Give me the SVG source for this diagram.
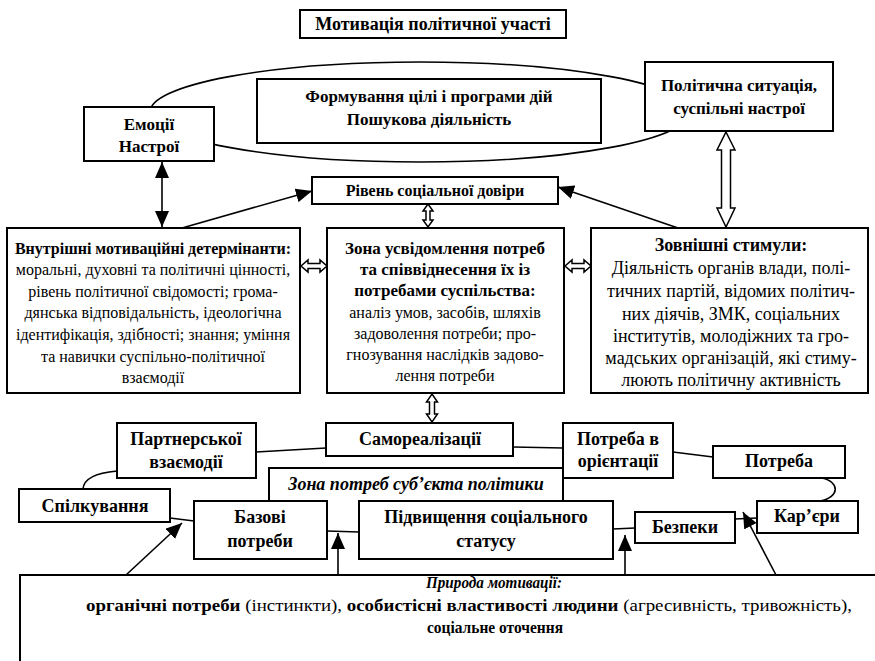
<svg xmlns="http://www.w3.org/2000/svg" width="875" height="661" viewBox="0 0 875 661" font-family="'Liberation Serif', 'Times New Roman', serif">
<defs>
<style>
.box{fill:#fff;stroke:#000;stroke-width:2}
text{font-family:'Liberation Serif','Times New Roman',serif}
.t{fill:#000;text-anchor:middle}
.b{font-weight:bold}
.i{font-style:italic}
.ln{stroke:#000;stroke-width:1.6;fill:none}
.ho{fill:#fff;stroke:#000;stroke-width:1.5}
.s16{font-size:16px}
.s17{font-size:17px}
.s18{font-size:18px}
</style>
<marker id="ah" viewBox="0 0 16 14" refX="16" refY="7" markerWidth="16" markerHeight="14" markerUnits="userSpaceOnUse" orient="auto-start-reverse">
<path d="M0,0 L16,7 L0,14 z" fill="#000"/>
</marker>
</defs>
<rect width="875" height="661" fill="#fff"/>

<g id="connectors">
<ellipse class="ln" cx="420" cy="112" rx="270" ry="50"/>
<line class="ln" x1="162" y1="162" x2="162" y2="227" marker-start="url(#ah)" marker-end="url(#ah)"/>
<line class="ln" x1="182" y1="228" x2="312" y2="191" marker-end="url(#ah)"/>
<line class="ln" x1="678" y1="228" x2="558" y2="187" marker-end="url(#ah)"/>
<path class="ho" d="M726,132 L735,150 L730.5,150 L730.5,208 L735,208 L726,227 L717,208 L721.5,208 L721.5,150 L717,150 Z"/>
<path class="ho" d="M428,204 L433,211 L430,211 L430,220 L433,220 L428,227 L423,220 L426,220 L426,211 L423,211 Z"/>
<path class="ho" d="M301,266 L308,260 L308,263.5 L320,263.5 L320,260 L327,266 L320,272 L320,268.5 L308,268.5 L308,272 Z"/>
<path class="ho" d="M565,266 L572,260 L572,263.5 L584,263.5 L584,260 L591,266 L584,272 L584,268.5 L572,268.5 L572,272 Z"/>
<path class="ho" d="M432,394 L437.5,402 L434.5,402 L434.5,414 L437.5,414 L432,422 L426.5,414 L429.5,414 L429.5,402 L426.5,402 Z"/>
<line class="ln" x1="256" y1="452" x2="326" y2="448"/>
<line class="ln" x1="513" y1="447" x2="563" y2="448"/>
<line class="ln" x1="673" y1="452" x2="713" y2="457"/>
<path class="ln" d="M83,489 Q84,474 117,471"/>
<path class="ln" d="M822,478 C840,482 840,497 820,501"/>
<line class="ln" x1="170" y1="518" x2="194" y2="521"/>
<line class="ln" x1="327" y1="531" x2="359" y2="532"/>
<line class="ln" x1="613" y1="529" x2="635" y2="528"/>
<line class="ln" x1="735" y1="519" x2="757" y2="518"/>
<line class="ln" x1="126" y1="575" x2="182" y2="523" marker-end="url(#ah)"/>
<line class="ln" x1="338" y1="575" x2="338" y2="533" marker-end="url(#ah)"/>
<line class="ln" x1="625" y1="575" x2="625" y2="535" marker-end="url(#ah)"/>
<line class="ln" x1="776" y1="575" x2="743" y2="512" marker-end="url(#ah)"/>
</g>

<g id="title">
<rect class="box" x="300" y="10" width="266" height="28"/>
<text class="t b s18" x="433" y="30">Мотивація політичної участі</text>
</g>

<g id="formuvannia">
<rect class="box" x="257" y="79" width="344" height="64"/>
<text class="t b s17" x="429" y="102">Формування цілі і програми дій</text>
<text class="t b s17" x="429" y="125">Пошукова діяльність</text>
</g>

<g id="emotsii">
<rect class="box" x="84" y="107" width="130" height="54"/>
<text class="t b s17" x="149" y="130">Емоції</text>
<text class="t b s17" x="149" y="152">Настрої</text>
</g>

<g id="sytuatsiia">
<rect class="box" x="645" y="62" width="188" height="69"/>
<text class="t b s17" x="739" y="91">Політична ситуація,</text>
<text class="t b s17" x="739" y="114">суспільні настрої</text>
</g>

<g id="dovira">
<rect class="box" x="312" y="177" width="246" height="27"/>
<text class="t b s16" x="435" y="196">Рівень соціальної довіри</text>
</g>

<g id="vnutrishni">
<rect class="box" x="7" y="228" width="293" height="165"/>
<text class="t b s16" x="153" y="254">Внутрішні мотиваційні детермінанти:</text>
<text class="t s16" x="153" y="275">моральні, духовні та політичні цінності,</text>
<text class="t s16" x="153" y="297">рівень політичної свідомості; грома-</text>
<text class="t s16" x="153" y="318">дянська відповідальність, ідеологічна</text>
<text class="t s16" x="153" y="340">ідентифікація, здібності; знання; уміння</text>
<text class="t s16" x="153" y="362">та навички суспільно-політичної</text>
<text class="t s16" x="153" y="383">взаємодії</text>
</g>

<g id="zona">
<rect class="box" x="327" y="228" width="237" height="165"/>
<text class="t b s17" x="445" y="254">Зона усвідомлення потреб</text>
<text class="t b s17" x="445" y="275">та співвіднесення їх із</text>
<text class="t b s17" x="445" y="296">потребами суспільства:</text>
<text class="t s16" x="445" y="318">аналіз умов, засобів, шляхів</text>
<text class="t s16" x="445" y="339">задоволення потреби; про-</text>
<text class="t s16" x="445" y="360">гнозування наслідків задово-</text>
<text class="t s16" x="445" y="381">лення потреби</text>
</g>

<g id="zovnishni">
<rect class="box" x="591" y="228" width="277" height="165"/>
<text class="t b s18" x="731" y="251">Зовнішні стимули:</text>
<text class="t s18" x="731" y="274">Діяльність органів влади, полі-</text>
<text class="t s18" x="731" y="297">тичних партій, відомих політич-</text>
<text class="t s18" x="731" y="320">них діячів, ЗМК, соціальних</text>
<text class="t s18" x="731" y="342">інститутів, молодіжних та гро-</text>
<text class="t s18" x="731" y="364">мадських організацій, які стиму-</text>
<text class="t s18" x="731" y="386">люють політичну активність</text>
</g>

<g id="partnerskoi">
<rect class="box" x="117" y="423" width="139" height="55"/>
<text class="t b s18" x="186" y="445">Партнерської</text>
<text class="t b s18" x="186" y="468">взаємодії</text>
</g>

<g id="samorealizatsii">
<rect class="box" x="326" y="423" width="187" height="33"/>
<text class="t b s18" x="420" y="445">Самореалізації</text>
</g>

<g id="oriientatsii">
<rect class="box" x="563" y="423" width="110" height="55"/>
<text class="t b s18" x="618" y="445">Потреба в</text>
<text class="t b s18" x="618" y="467">орієнтації</text>
</g>

<g id="potreba">
<rect class="box" x="713" y="446" width="132" height="32"/>
<text class="t b s18" x="779" y="467">Потреба</text>
</g>

<g id="zona-potreb">
<path class="box" d="M269,501 V468 H563 V501"/>
<text class="t b i s18" x="416" y="490">Зона потреб суб’єкта політики</text>
</g>

<g id="spilkuvannia">
<rect class="box" x="19" y="489" width="151" height="33"/>
<text class="t b s18" x="95" y="512">Спілкування</text>
</g>

<g id="bazovi">
<rect class="box" x="194" y="501" width="133" height="58"/>
<text class="t b s18" x="260" y="523">Базові</text>
<text class="t b s18" x="260" y="547">потреби</text>
</g>

<g id="statusu">
<rect class="box" x="359" y="501" width="254" height="58"/>
<text class="t b s18" x="486" y="523">Підвищення соціального</text>
<text class="t b s18" x="486" y="547">статусу</text>
</g>

<g id="bezpeky">
<rect class="box" x="635" y="512" width="100" height="31"/>
<text class="t b s18" x="685" y="533">Безпеки</text>
</g>

<g id="karieri">
<rect class="box" x="757" y="501" width="101" height="32"/>
<text class="t b s18" x="807" y="522">Кар’єри</text>
</g>

<g id="pryroda">
<rect class="box" x="20" y="575" width="900" height="120"/>
<text class="t b i s17" x="494" y="588" textLength="136" lengthAdjust="spacingAndGlyphs">Природа мотивації:</text>
<text class="t s17" x="469" y="611" textLength="766" lengthAdjust="spacingAndGlyphs"><tspan class="b">органічні потреби</tspan> (інстинкти), <tspan class="b">особистісні властивості людини</tspan> (агресивність, тривожність),</text>
<text class="t b s17" x="495" y="633" textLength="136" lengthAdjust="spacingAndGlyphs">соціальне оточення</text>
</g>
</svg>
